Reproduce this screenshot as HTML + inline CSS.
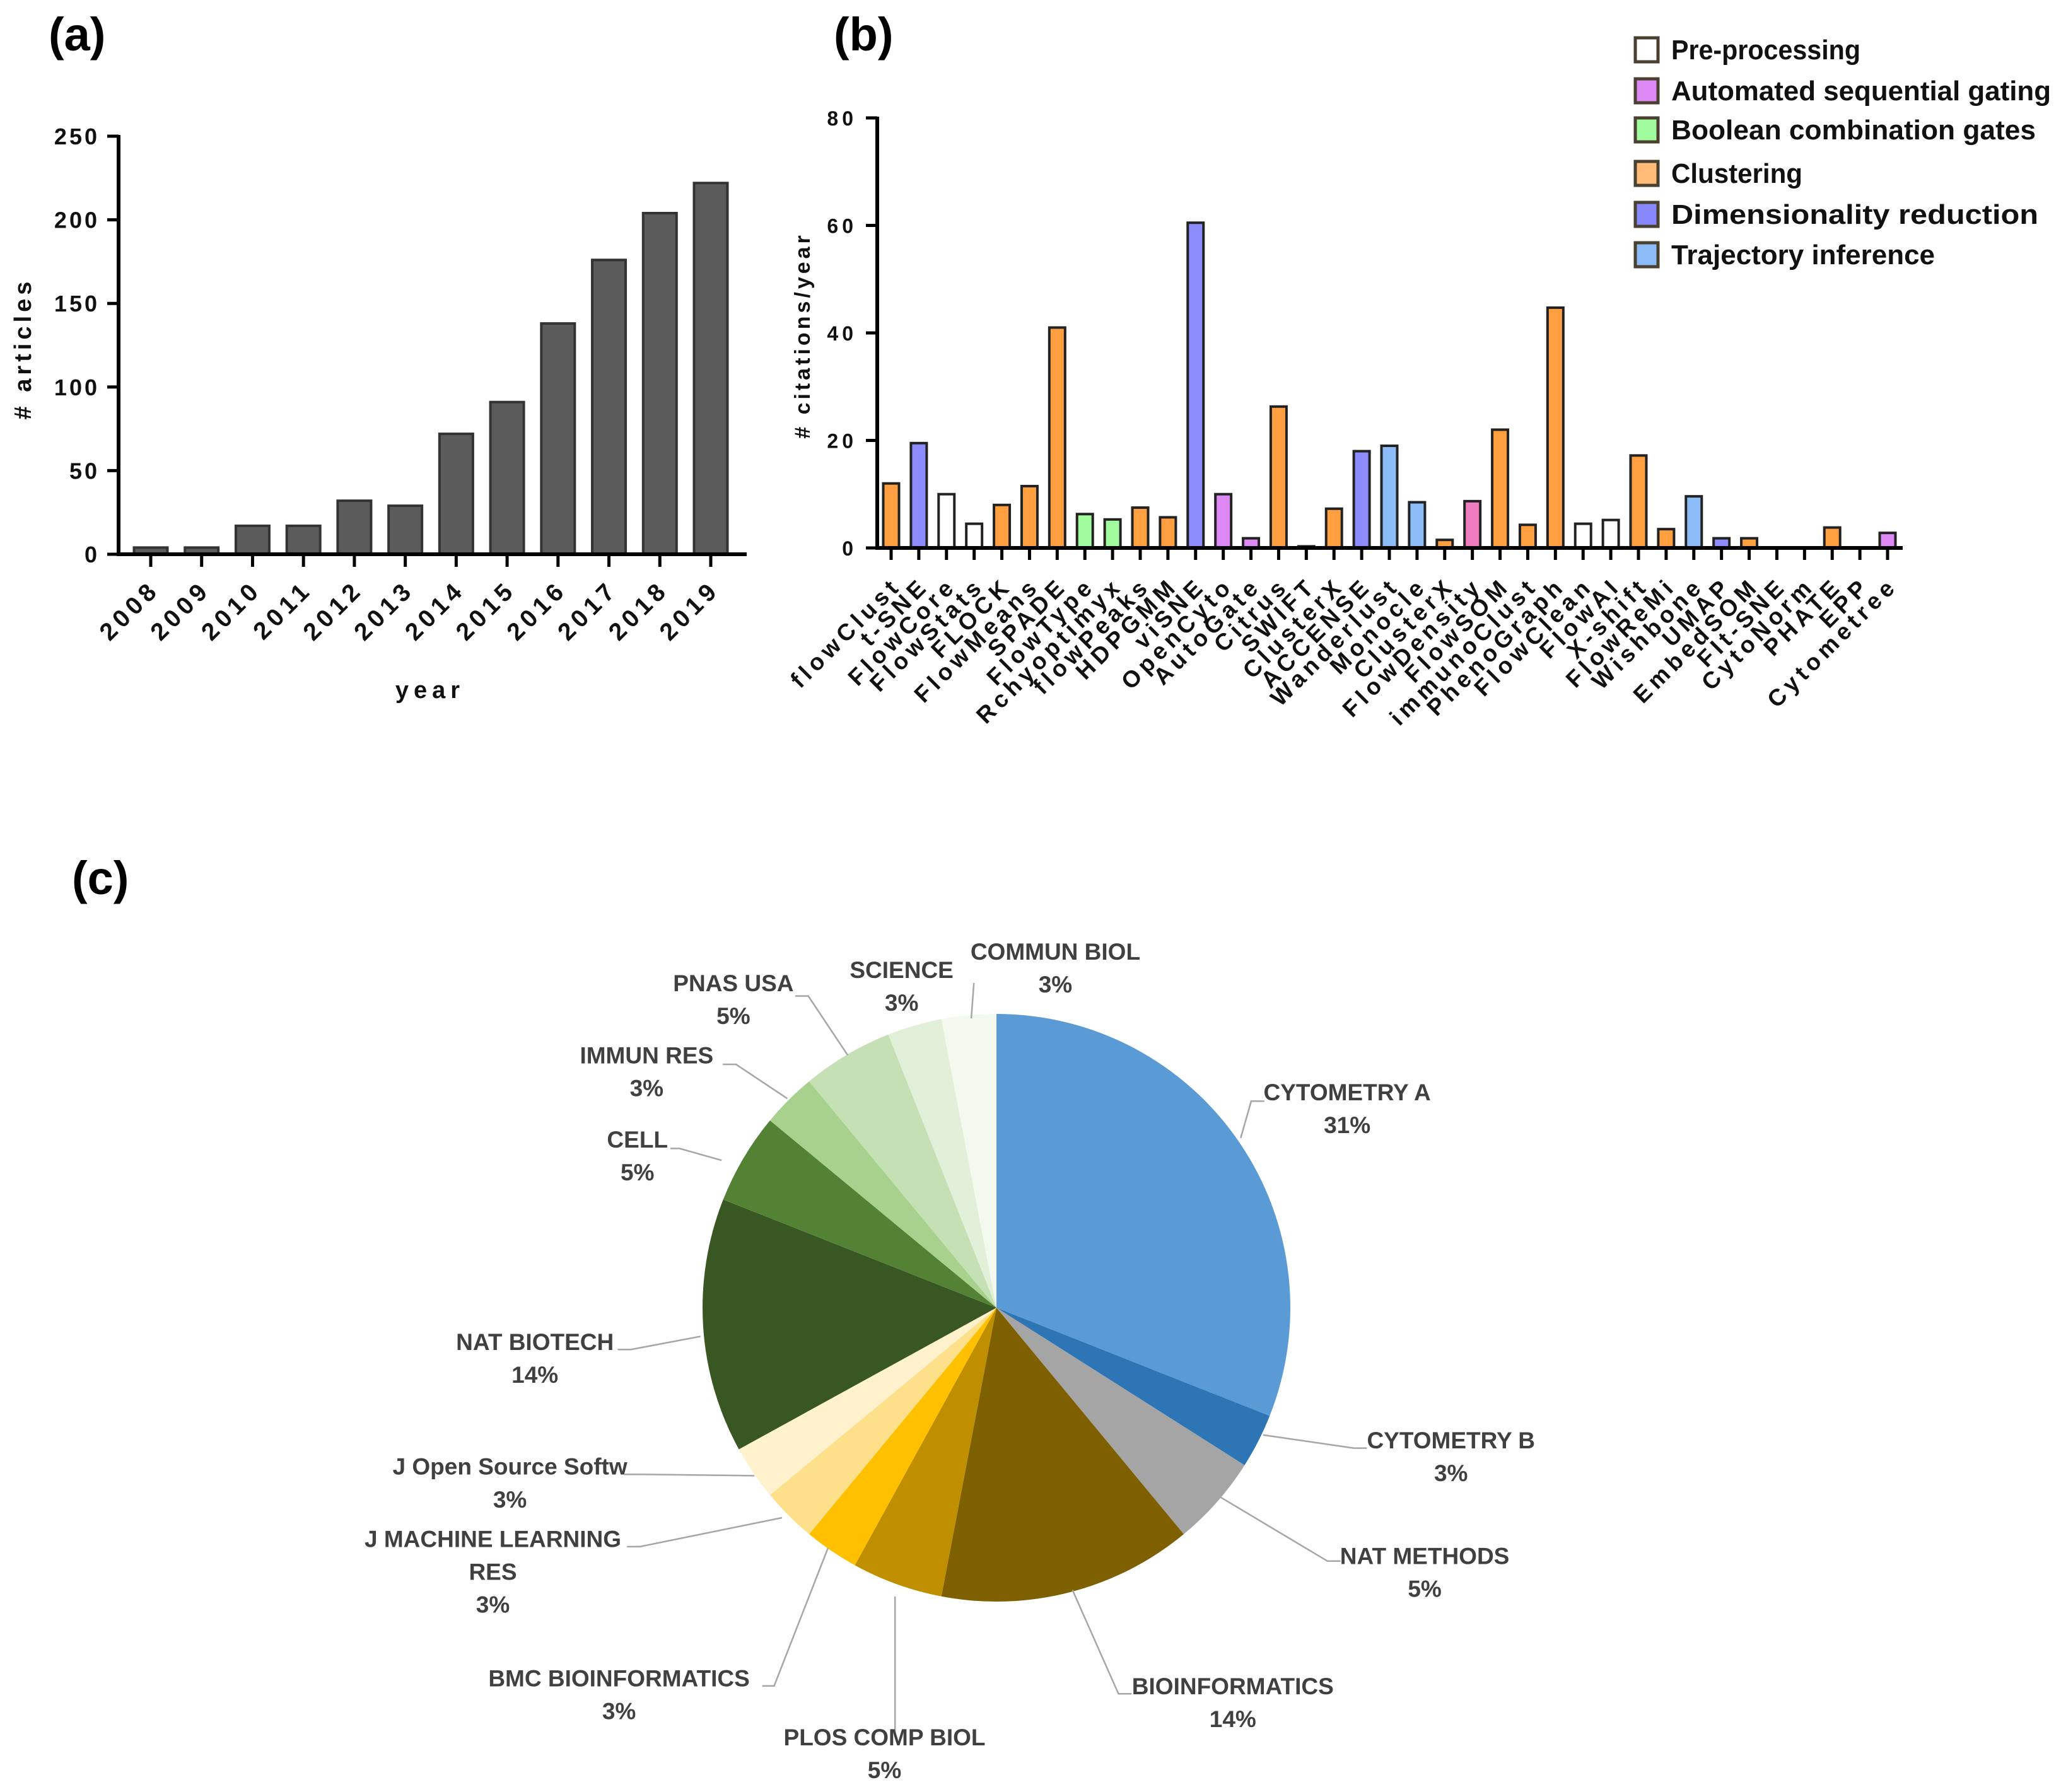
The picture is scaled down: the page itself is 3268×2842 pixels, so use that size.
<!DOCTYPE html>
<html><head><meta charset="utf-8"><style>
html,body{margin:0;padding:0;background:#fff;}
svg{display:block;}
text{font-family:"Liberation Sans",sans-serif;}
.ax{font-weight:bold;fill:#111;}
.nar{font-family:"Liberation Sans Narrow","Liberation Sans",sans-serif;font-weight:bold;}
</style></head><body>
<svg id="fig" xmlns="http://www.w3.org/2000/svg" width="3268" height="2842" viewBox="0 0 3268 2842">
<text x="77" y="80" font-size="74" font-weight="bold">(a)</text>
<text x="1322" y="80" font-size="74" font-weight="bold">(b)</text>
<text x="114" y="1418" font-size="74" font-weight="bold">(c)</text>
<g id="ga"></g>
<g id="gb"></g>
<g id="gl"></g>
<g id="gc"></g>
</svg>
<script>
// ---------- Panel (a) data ----------
const yearCats = ["2008","2009","2010","2011","2012","2013","2014","2015","2016","2017","2018","2019"];
const articleCounts = [4,4,17,17,32,29,72,91,138,176,204,222];
const aTicks = [0,50,100,150,200,250];

// ---------- Panel (b) data ----------
const toolNames = ["flowClust","t-SNE","FlowCore","FlowStats","FLOCK","FlowMeans","SPADE","FlowType","Rchyoptimyx","flowPeaks","HDPGMM","viSNE","OpenCyto","AutoGate","Citrus","SWIFT","ClusterX","ACCENSE","Wanderlust","Monocle","ClusterX","FlowDensity","FlowSOM","immunoClust","PhenoGraph","FlowClean","FlowAI","X-shift","FlowReMi","Wishbone","UMAP","EmbedSOM","FIt-SNE","CytoNorm","PHATE","EPP","Cytometree"];
const citationsPerYear = [12,19.5,10,4.5,8,11.5,41,6.3,5.3,7.5,5.7,60.5,10,1.8,26.3,0.3,7.3,18,19,8.5,1.5,8.7,22,4.3,44.7,4.5,5.2,17.2,3.5,9.6,1.8,1.8,0,0,3.8,0,2.8];
const toolCategory = ["clu","dim","pre","pre","clu","clu","clu","bool","bool","clu","clu","dim","auto","auto","clu","swift","clu","dim","traj","traj","clu","dens","clu","clu","clu","pre","pre","clu","clu","traj","dim","clu","clu","clu","clu","clu","auto"];
const bTicks = [0,20,40,60,80];
const legendLabels = ["Pre-processing","Automated sequential gating","Boolean combination gates","Clustering","Dimensionality reduction","Trajectory inference"];

// ---------- Panel (c) data ----------
const journals = ["CYTOMETRY  A","CYTOMETRY  B","NAT METHODS","BIOINFORMATICS","PLOS COMP  BIOL","BMC BIOINFORMATICS","J MACHINE LEARNING|RES","J Open Source  Softw","NAT BIOTECH","CELL","IMMUN RES","PNAS USA","SCIENCE","COMMUN BIOL"];
const journalShare = [31,3,5,14,5,3,3,3,14,5,3,5,3,3];

const NS="http://www.w3.org/2000/svg";
function mk(tag,attrs,parent,txt){const e=document.createElementNS(NS,tag);for(const k in attrs)e.setAttribute(k,attrs[k]);if(txt!==undefined)e.textContent=txt;parent.appendChild(e);return e;}

// ===== Panel (a) =====
(function(){
  const g=document.getElementById('ga');
  const x0=188,x1=1184,y0=879,yTop=216,vmax=250;
  const ys=v=>y0-(v/vmax)*(y0-yTop);
  const cx0=239,step=(1127-239)/(yearCats.length-1),bw=53;
  const xs=i=>cx0+i*step;
  articleCounts.forEach((v,i)=>{
    const r=mk('rect',{x:xs(i)-bw/2,y:ys(v),width:bw,height:y0-ys(v),fill:'#5b5b5b',stroke:'#333','stroke-width':4},g);
    
    
    mk('line',{x1:xs(i),x2:xs(i),y1:y0,y2:y0+20,stroke:'#000','stroke-width':5},g);
    const t=mk('text',{x:0,y:0,'font-size':39,'letter-spacing':7,'text-anchor':'end',class:'ax',transform:`translate(${xs(i)+16},${y0+58}) rotate(-45)`},g,yearCats[i]);
    
    
  });
  aTicks.forEach(v=>{
    mk('line',{x1:x0-18,x2:x0,y1:ys(v),y2:ys(v),stroke:'#000','stroke-width':5},g);
    const t=mk('text',{x:x0-30,y:ys(v)+13,'font-size':36,'letter-spacing':4,'text-anchor':'end',class:'ax'},g,String(v));
    
    
  });
  mk('line',{x1:x0,x2:x0,y1:yTop-2,y2:y0+2,stroke:'#000','stroke-width':6,},g);
  mk('line',{x1:x0-3,x2:x1,y1:y0,y2:y0,stroke:'#000','stroke-width':6,},g);
  mk('text',{x:0,y:0,'font-size':38,'letter-spacing':6,'text-anchor':'middle',class:'ax',transform:'translate(49,553) rotate(-90)',},g,'# articles');
  mk('text',{x:682,y:1107,'font-size':38,'letter-spacing':8,'text-anchor':'middle',class:'ax',},g,'year');
})();

// ===== Panel (b) =====
(function(){
  const g=document.getElementById('gb');
  const colors={pre:'#ffffff',auto:'#dd88f4',bool:'#a0fc9c',clu:'#ff9f3f',dim:'#8c8cfc',traj:'#8cbcf8',dens:'#f07cc0',swift:'#222'};
  const x0=1391,x1=3017,y0=869,yTop=187,vmax=80;
  const ys=v=>y0-(v/vmax)*(y0-yTop);
  const cx0=1413,step=(2993-1413)/(toolNames.length-1),bw=25;
  const xs=i=>cx0+i*step;
  citationsPerYear.forEach((v,i)=>{
    if(v>0){
      const r=mk('rect',{x:xs(i)-bw/2,y:ys(v),width:bw,height:y0-ys(v),fill:colors[toolCategory[i]],stroke:'#222','stroke-width':4},g);
      
      
    }
    mk('line',{x1:xs(i),x2:xs(i),y1:y0,y2:y0+19,stroke:'#000','stroke-width':5},g);
    const t=mk('text',{x:0,y:0,'font-size':37,'font-weight':'bold','letter-spacing':7,'text-anchor':'end',fill:'#111',transform:`translate(${xs(i)+18},${y0+62}) rotate(-45)`},g,toolNames[i]);
    
    
  });
  bTicks.forEach(v=>{
    mk('line',{x1:x0-18,x2:x0,y1:ys(v),y2:ys(v),stroke:'#000','stroke-width':5},g);
    const t=mk('text',{x:x0-32,y:ys(v)+12,'font-size':32,'letter-spacing':6,'text-anchor':'end',class:'ax'},g,String(v));
    
    
  });
  mk('line',{x1:x0,x2:x0,y1:yTop-2,y2:y0+2,stroke:'#000','stroke-width':6,},g);
  mk('line',{x1:x0-3,x2:x1,y1:y0,y2:y0,stroke:'#000','stroke-width':6,},g);
  mk('text',{x:0,y:0,'font-size':34,'letter-spacing':5,'text-anchor':'middle',class:'ax',transform:'translate(1284,532) rotate(-90)',},g,'# citations/year');

  // legend
  const gl=document.getElementById('gl');
  const lc=['#ffffff','#dd88f4','#a0fc9c','#ffbb77','#8888fc','#8cbcf8'];
  const ly=[79,144,206,275,340,404];
  const lw=[300,602,578,208,582,418];
  legendLabels.forEach((s,i)=>{
    const r=mk('rect',{x:2593,y:ly[i]-19,width:36,height:38,fill:lc[i],stroke:'#4a4030','stroke-width':5},gl);
    
    
    const t=mk('text',{x:2650,y:ly[i]+15,'font-size':44,class:'nar',fill:'#111',textLength:lw[i],lengthAdjust:'spacingAndGlyphs'},gl,s);
    
    
  });
})();

// ===== Panel (c) =====
(function(){
  const g=document.getElementById('gc');
  const cols=['#5b9bd5','#2e75b6','#a5a5a5','#7f6000','#bf8f00','#ffc000','#ffe08a','#fff2cc','#385723','#548235','#a9d18e','#c5e0b4','#e2f0d9','#f3f9ef'];
  const cx=1580,cy=2074,R=466;
  const total=journalShare.reduce((a,b)=>a+b,0);
  let a=0;
  journalShare.forEach((v,i)=>{
    const a0=a/total*2*Math.PI, a1=(a+v)/total*2*Math.PI; a+=v;
    const p=(t)=>[cx+R*Math.sin(t),cy-R*Math.cos(t)];
    const [sx,sy]=p(a0),[ex,ey]=p(a1);
    const large=(a1-a0)>Math.PI?1:0;
    const path=mk('path',{d:`M${cx},${cy} L${sx},${sy} A${R},${R} 0 ${large} 1 ${ex},${ey} Z`,fill:cols[i]},g);
    
    
  });
  const S=2.084;
  const leaders=[[[944,866],[952,838],[962,838]],[[961,1092],[1030,1102],[1040,1102]],[[928,1139],[1010,1188],[1020,1188]],[[816,1210],[851,1289],[861,1289]],[[681,1215],[681,1320]],[[630,1178],[589,1283],[580,1283]],[[595,1155],[487,1177],[477,1177]],[[574,1123],[485,1122],[475,1122]],[[533,1017],[480,1027],[470,1027]],[[549,883],[517,874],[510,874]],[[599,836],[560,810],[550,810]],[[645,803],[615,758],[605,758]],null,[[739,775],[741,748]]];
  leaders.forEach(l=>{ if(!l) return;
    mk('polyline',{points:l.map(q=>(q[0]*S)+','+(q[1]*S)).join(' '),fill:'none',stroke:'#a6a6a6','stroke-width':2.5,},g);
  });
  const lp=[[1025,831],[1104,1096],[1084,1184],[938,1283],[673,1322],[471,1277],[375,1171],[388,1116],[407,1021],[485,867],[492,803],[558,748],[686,738],[803,724]];
  journals.forEach((nm,i)=>{
    const lines=nm.split('|').concat([journalShare[i]+'%']);
    lines.forEach((s,k)=>{
      const t=mk('text',{x:lp[i][0]*S,y:(lp[i][1]+k*25)*S+13,'font-size':37,class:'nar',fill:'#404040','text-anchor':'middle','xml:space':'preserve'},g,s);
      
      
    });
  });
})();
</script>
</body></html>
